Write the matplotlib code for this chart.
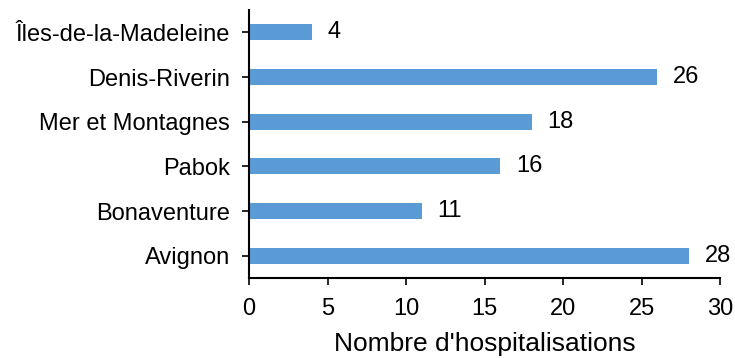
import matplotlib
matplotlib.use("Agg")
import matplotlib.pyplot as plt

plt.rcParams["font.family"] = ["Liberation Sans", "DejaVu Sans"]

# data, listed bottom to top
territories = ["Avignon", "Bonaventure", "Pabok", "Mer et Montagnes", "Denis-Riverin", "Îles-de-la-Madeleine"]
hospitalisations = [28, 11, 16, 18, 26, 4]
x_ticks = [0, 5, 10, 15, 20, 25, 30]

fig = plt.figure(figsize=(7.35, 3.58), dpi=100)
ax = fig.add_axes([0.339, 0.223, 0.641, 0.749])

ypos = list(range(len(territories)))
ax.barh(ypos, hospitalisations, height=0.36, color="#5B9BD5")
for y, v in zip(ypos, hospitalisations):
    ax.text(v + 1.0, y, str(v), va="center", ha="left", fontsize=17)

ax.set_yticks(ypos)
ax.set_yticklabels(territories, fontsize=17)
ax.set_ylim(-0.5, len(territories) - 0.5)
ax.set_xlim(0, 30)
ax.set_xticks(x_ticks)
ax.tick_params(axis="x", labelsize=17, length=5, width=1.2, pad=9)
ax.tick_params(axis="y", length=5, width=1.2, pad=9)
ax.set_xlabel("Nombre d'hospitalisations", fontsize=19, labelpad=9)

for side in ("top", "right"):
    ax.spines[side].set_visible(False)
for side in ("left", "bottom"):
    ax.spines[side].set_linewidth(1.5)

fig.savefig("out.png", dpi=100)
